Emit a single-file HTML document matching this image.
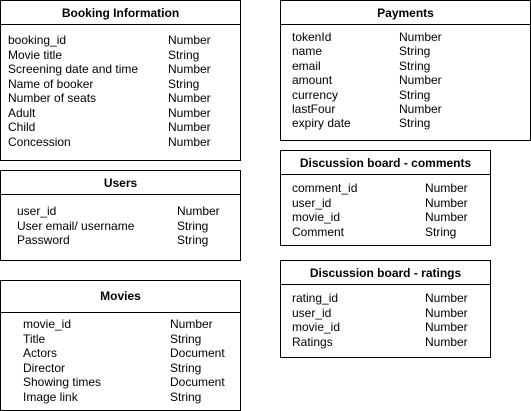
<!DOCTYPE html>
<html><head><meta charset="utf-8"><style>
body{margin:0;width:531px;height:411px;background:#fff;position:relative;font-family:"Liberation Sans",Arial,sans-serif;font-size:12px;color:#000;overflow:hidden}
.b{position:absolute;border:1px solid #000;box-sizing:border-box}
.h{position:absolute;left:0;right:0;top:0;border-bottom:1px solid #000;text-align:center;font-weight:bold;font-size:12px}
.r{position:absolute;white-space:nowrap;line-height:14px}
</style></head><body>

<div class="b" style="left:0;top:0;width:241px;height:161px">
 <div class="h" style="height:23px;line-height:24px">Booking Information</div>
 <div class="r" style="left:7px;top:32px;line-height:14.5px">booking_id<br>Movie title<br>Screening date and time<br>Name of booker<br>Number of seats<br>Adult<br>Child<br>Concession</div>
 <div class="r" style="left:167px;top:32px;line-height:14.5px">Number<br>String<br>Number<br>String<br>Number<br>Number<br>Number<br>Number</div>
</div>

<div class="b" style="left:0;top:170px;width:241px;height:91px">
 <div class="h" style="height:23px;line-height:24px">Users</div>
 <div class="r" style="left:16px;top:33px;line-height:14.5px">user_id<br>User email/ username<br>Password</div>
 <div class="r" style="left:176px;top:33px;line-height:14.5px">Number<br>String<br>String</div>
</div>

<div class="b" style="left:0;top:280px;width:241px;height:131px">
 <div class="h" style="height:31px;line-height:31px">Movies</div>
 <div class="r" style="left:22px;top:36px;line-height:14.5px">movie_id<br>Title<br>Actors<br>Director<br>Showing times<br>Image link</div>
 <div class="r" style="left:169px;top:36px;line-height:14.5px">Number<br>String<br>Document<br>String<br>Document<br>String</div>
</div>

<div class="b" style="left:280px;top:0;width:251px;height:141px">
 <div class="h" style="height:23px;line-height:24px">Payments</div>
 <div class="r" style="left:11px;top:29px;line-height:14.4px">tokenId<br>name<br>email<br>amount<br>currency<br>lastFour<br>expiry date</div>
 <div class="r" style="left:118px;top:29px;line-height:14.4px">Number<br>String<br>String<br>Number<br>String<br>Number<br>String</div>
</div>

<div class="b" style="left:280px;top:150px;width:211px;height:96px">
 <div class="h" style="height:23px;line-height:24px">Discussion board - comments</div>
 <div class="r" style="left:11px;top:30px;line-height:14.5px">comment_id<br>user_id<br>movie_id<br>Comment</div>
 <div class="r" style="left:144px;top:30px;line-height:14.5px">Number<br>Number<br>Number<br>String</div>
</div>

<div class="b" style="left:280px;top:260px;width:211px;height:98px">
 <div class="h" style="height:23px;line-height:24px">Discussion board - ratings</div>
 <div class="r" style="left:11px;top:30px;line-height:14.5px">rating_id<br>user_id<br>movie_id<br>Ratings</div>
 <div class="r" style="left:144px;top:30px;line-height:14.5px">Number<br>Number<br>Number<br>Number</div>
</div>

</body></html>
